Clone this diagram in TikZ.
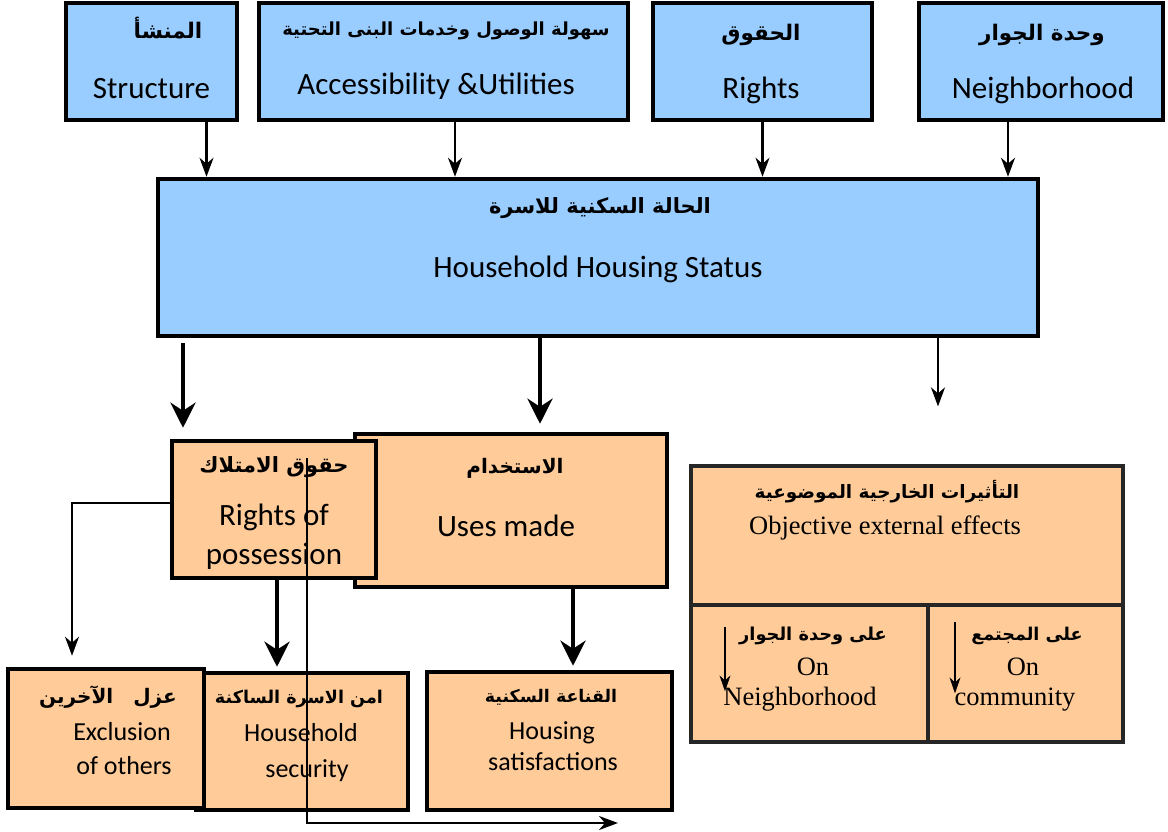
\documentclass[tikz,border=0pt]{standalone}
\usepackage{fontspec}
\setmainfont{Carlito}
\newfontfamily\arabicfont[Script=Arabic]{DejaVu Sans}
\newfontfamily\timesfont{Liberation Serif}
\TeXXeTstate=1
\usetikzlibrary{arrows.meta}
\definecolor{factorblue}{HTML}{99CCFF}
\definecolor{effectpeach}{HTML}{FFCC99}
\newcommand{\rtl}[1]{\beginR #1\endR}

\tikzset{
  block/.style={draw, line width=4.5pt, inner sep=0pt},
  bluebox/.style={block, fill=factorblue},
  peachbox/.style={block, fill=effectpeach},
  cell/.style={draw=black!85, line width=3.2pt, fill=effectpeach, inner sep=0pt},
  ar/.style={font=\arabicfont\bfseries\fontsize{#1}{#1}\selectfont, inner sep=0pt, text height=15pt, text depth=4pt},
  ar/.default=21.5,
  en/.style={font=\fontsize{31}{36}\selectfont, inner sep=0pt, text height=21pt, text depth=3pt},
  ensmall/.style={font=\fontsize{26}{30}\selectfont, inner sep=0pt, text height=18pt, text depth=2.5pt},
  tm/.style={font=\timesfont\fontsize{26.5}{30}\selectfont, inner sep=0pt, text height=18pt, text depth=3pt},
  lightarrow/.style={line width=2.2pt, -{Stealth[length=19pt,width=14pt,inset=6pt]}},
  heavyarrow/.style={line width=4.3pt, -{Stealth[length=25pt,width=25pt,inset=8pt]}},
  tinyarrow/.style={line width=1.2pt, -{Stealth[length=16pt,width=11pt,inset=5pt]}},
}

\begin{document}
\begin{tikzpicture}[x=1pt, y=-1pt]
    \useasboundingbox (0,0) rectangle (1168,832);

    % Four factors along the top
    \node[bluebox, minimum width=171pt, minimum height=117pt] (structure) at (151.5,61.5) {};
    \node[bluebox, minimum width=369pt, minimum height=117pt] (access) at (443.5,61.5) {};
    \node[bluebox, minimum width=219pt, minimum height=117pt] (rights) at (762.5,61.5) {};
    \node[bluebox, minimum width=244pt, minimum height=117pt] (neigh) at (1041,61.5) {};

    \node[ar] (structureAr) at (168,33) {\rtl{المنشأ}};
    \node[en] (structureEn) at (151.5,90) {Structure};
    \node[ar=18] (accessAr) at (446,30) {\rtl{سهولة الوصول وخدمات البنى التحتية}};
    \node[en] (accessEn) at (436,86) {Accessibility \&Utilities};
    \node[ar] (rightsAr) at (761,35) {\rtl{الحقوق}};
    \node[en] (rightsEn) at (761,90) {Rights};
    \node[ar] (neighAr) at (1042,35) {\rtl{وحدة الجوار}};
    \node[en] (neighEn) at (1043,90) {Neighborhood};

    % Housing status
    \node[bluebox, minimum width=880pt, minimum height=157pt] (status) at (598,257.5) {};
    \node[ar=21] (statusAr) at (600,208) {\rtl{الحالة السكنية للاسرة}};
    \node[en] (statusEn) at (598,268) {Household Housing Status};

    % Second level: uses sits behind possession
    \node[peachbox, minimum width=312pt, minimum height=153pt] (uses) at (511,510.5) {};
    \node[peachbox, minimum width=204pt, minimum height=137pt] (possession) at (274,509.5) {};
    \node[ar=21] (possessionAr) at (274,467) {\rtl{حقوق الامتلاك}};
    \node[en] (possessionEn) at (274,516) {Rights of};
    \node[en] (possessionEnB) at (274,555) {possession};
    \node[ar=20] (usesAr) at (515,468) {\rtl{الاستخدام}};
    \node[en] (usesEn) at (506,527) {Uses made};

    % External effects, split in two cells
    \node[cell, minimum width=432pt, minimum height=139pt] (effects) at (907,535.5) {};
    \node[cell, minimum width=237pt, minimum height=137pt] (onneigh) at (809.5,673.5) {};
    \node[cell, minimum width=195pt, minimum height=137pt] (oncomm) at (1025.5,673.5) {};
    \node[ar=18.4] (effectsAr) at (887,493) {\rtl{التأثيرات الخارجية الموضوعية}};
    \node[tm] (effectsEn) at (885,527) {Objective external effects};
    \node[ar=17.8] (onneighAr) at (813,635) {\rtl{على وحدة الجوار}};
    \node[tm] (onneighOn) at (813,668) {On};
    \node[tm] (onneighEn) at (800,698) {Neighborhood};
    \node[ar=17.6] (oncommAr) at (1027,635) {\rtl{على المجتمع}};
    \node[tm] (oncommOn) at (1023,668) {On};
    \node[tm] (oncommEn) at (1015,698) {community};

    % Bottom outcomes
    \node[peachbox, minimum width=212pt, minimum height=137pt] (security) at (302,741.5) {};
    \node[peachbox, minimum width=196pt, minimum height=139pt] (exclusion) at (106,738.5) {};
    \node[peachbox, minimum width=245pt, minimum height=138pt] (satisfaction) at (549.5,741) {};
    \node[ar=20] (exclusionAr) at (108,698) {\rtl{عزل\hspace{1em}الآخرين}};
    \node[ensmall] (exclusionEn) at (122,733) {Exclusion};
    \node[ensmall] (exclusionEnB) at (124,767) {of others};
    \node[ar=17.6] (securityAr) at (299,698) {\rtl{امن الاسرة الساكنة}};
    \node[ensmall] (securityEn) at (301,734) {Household};
    \node[ensmall] (securityEnB) at (307,770) {security};
    \node[ar=17.4] (satisfactionAr) at (551,697) {\rtl{القناعة السكنية}};
    \node[ensmall] (satisfactionEn) at (552,732) {Housing};
    \node[ensmall] (satisfactionEnB) at (553,763) {satisfactions};

    % Arrows into the status box
    \draw[lightarrow] ([xshift=55pt]structure.south) -- ([xshift=55pt]structure.south |- status.north);
    \draw[lightarrow] ([xshift=11.5pt]access.south) -- ([xshift=11.5pt]access.south |- status.north);
    \draw[lightarrow] (rights.south) -- (rights.south |- status.north);
    \draw[lightarrow] ([xshift=-33pt]neigh.south) -- ([xshift=-33pt]neigh.south |- status.north);

    % Arrows out of the status box
    \draw[heavyarrow, shorten <=5pt, shorten >=11pt] ([xshift=-415pt]status.south) -- ([xshift=-415pt]status.south |- possession.north);
    \draw[heavyarrow, shorten >=8pt] ([xshift=-58pt]status.south) -- ([xshift=-58pt]status.south |- uses.north);
    \draw[lightarrow, shorten >=58pt] ([xshift=340pt]status.south) -- ([xshift=340pt]status.south |- effects.north);

    % Arrows down to the outcomes
    \draw[lightarrow, shorten >=11pt] ([yshift=6.5pt]possession.west) -| ([xshift=-34pt]exclusion.north);
    \draw[heavyarrow, shorten >=4pt] ([xshift=3pt]possession.south) -- ([xshift=3pt]possession.south |- security.north);
    \draw[heavyarrow, shorten >=4pt] ([xshift=62pt]uses.south) -- ([xshift=62pt]uses.south |- satisfaction.north);
    \coordinate (loopStart) at (307,458);
    \coordinate (loopEnd) at (618,823);
    \draw[lightarrow] (loopStart) |- (loopEnd);

    % Small arrows inside the effect cells
    \draw[tinyarrow] ([xshift=-84.5pt,yshift=-24pt]onneigh.north) -- ++(0,64);
    \draw[tinyarrow] ([xshift=-70.5pt,yshift=-19pt]oncomm.north) -- ++(0,71);
\end{tikzpicture}
\end{document}
